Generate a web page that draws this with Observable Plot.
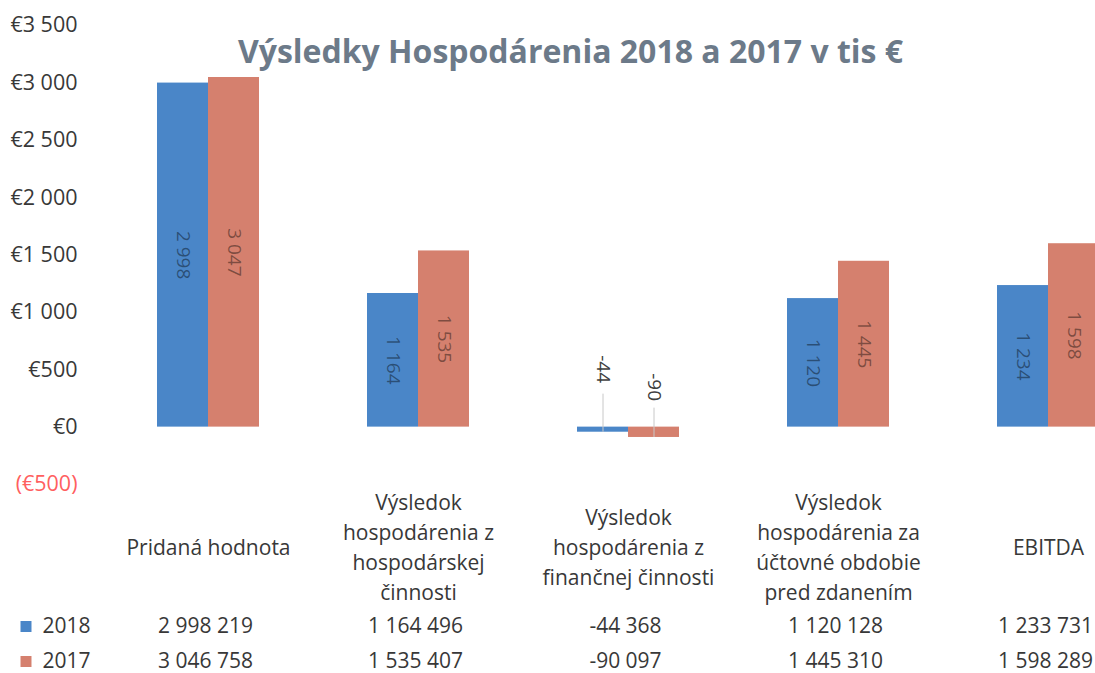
<!DOCTYPE html>
<html><head><meta charset="utf-8">
<script src="https://cdn.jsdelivr.net/npm/d3@7"></script>
<script src="https://cdn.jsdelivr.net/npm/@observablehq/plot@0.6"></script>
<style>body{margin:0;background:#fff;overflow:hidden;font-family:"Open Sans",sans-serif}</style>
</head><body><div id="chart"></div>
<script>
const categories = ["Pridaná hodnota", "VH hospodárska činnosť", "VH finančná činnosť", "VH pred zdanením", "EBITDA"];
const categoryLabels = [
  "Pridaná hodnota",
  "Výsledok\nhospodárenia z\nhospodárskej\nčinnosti",
  "Výsledok\nhospodárenia z\nfinančnej činnosti",
  "Výsledok\nhospodárenia za\núčtovné obdobie\npred zdanením",
  "EBITDA"
];
const series = ["2018", "2017"];
const seriesColors = ["#4a86c8", "#d5806e"];
const values2018 = [2998219, 1164496, -44368, 1120128, 1233731];
const values2017 = [3046758, 1535407, -90097, 1445310, 1598289];
const yTicks = [-500, 0, 500, 1000, 1500, 2000, 2500, 3000, 3500];
const title = "Výsledky Hospodárenia 2018 a 2017 v tis €";

const rows = categories.map((c, i) => ({category: c, label: categoryLabels[i], v2018: values2018[i], v2017: values2017[i]}));
const fmtSpace = v => d3.format(",")(v).replace(/,/g, "\u00a0").replace("\u2212", "-");
const k = v => v / 1000;
const fmtK = v => fmtSpace(Math.round(v / 1000));
const txt = "#383838";

const chart = Plot.plot({
  width: 1095,
  height: 673,
  marginTop: 25,
  marginBottom: 189,
  marginLeft: 103,
  marginRight: 0,
  style: {fontFamily: "Open Sans", background: "#fff"},
  x: {type: "band", domain: categories, range: [103, 1153], padding: 0, axis: null},
  y: {domain: [-500, 3500], axis: null},
  marks: [
    Plot.barY(rows, {x: "category", y: d => k(d.v2018), fill: seriesColors[0], insetLeft: 54, insetRight: 105}),
    Plot.barY(rows, {x: "category", y: d => k(d.v2017), fill: seriesColors[1], insetLeft: 105, insetRight: 54}),
    // labels inside positive bars
    Plot.text(rows.filter(d => d.v2018 > 0), {x: "category", y: d => k(d.v2018) / 2, text: d => fmtK(d.v2018), rotate: 90, dx: -25.5, fontSize: 19, fill: "#000", fillOpacity: 0.42}),
    Plot.text(rows.filter(d => d.v2017 > 0), {x: "category", y: d => k(d.v2017) / 2, text: d => fmtK(d.v2017), rotate: 90, dx: 25.5, fontSize: 19, fill: "#000", fillOpacity: 0.42}),
    // callouts for negative bars
    Plot.ruleX(rows.filter(d => d.v2018 < 0), {x: "category", y1: 0, y2: d => k(d.v2018), dx: -25.5, insetTop: -33, stroke: "#c8c8c8", strokeWidth: 1}),
    Plot.ruleX(rows.filter(d => d.v2017 < 0), {x: "category", y1: 0, y2: d => k(d.v2017), dx: 25.5, insetTop: -19, stroke: "#c8c8c8", strokeWidth: 1}),
    Plot.text(rows.filter(d => d.v2018 < 0), {x: "category", y: 0, text: d => fmtK(d.v2018), rotate: 90, dx: -25.5, dy: -58, fontSize: 19, fill: "#404040"}),
    Plot.text(rows.filter(d => d.v2017 < 0), {x: "category", y: 0, text: d => fmtK(d.v2017), rotate: 90, dx: 25.5, dy: -40, fontSize: 19, fill: "#404040"}),
    // y tick labels
    Plot.text(yTicks.filter(t => t >= 0), {y: d => d, text: d => "€" + fmtSpace(d), frameAnchor: "left", textAnchor: "end", lineAnchor: "middle", dx: -26, fontSize: 21.5, fill: txt}),
    Plot.text(yTicks.filter(t => t < 0), {y: d => d, text: d => "(€" + fmtSpace(-d) + ")", frameAnchor: "left", textAnchor: "end", lineAnchor: "middle", dx: -26, fontSize: 21.5, fill: "#ff5f5f"}),
    // title
    Plot.text([title], {text: d => d, frameAnchor: "top", lineAnchor: "middle", dy: 27, dx: -29, fontSize: 32, fontWeight: "bold", fill: "#6c7a89"}),
    // category labels
    Plot.text(rows, {x: "category", text: "label", frameAnchor: "bottom", lineAnchor: "middle", dy: 61, fontSize: 21, lineHeight: 1.414, fill: txt}),
    // data table
    Plot.text(rows, {x: "category", text: d => fmtSpace(d.v2018), frameAnchor: "bottom", lineAnchor: "middle", dy: 142, dx: -3, fontSize: 21, fill: txt}),
    Plot.text(rows, {x: "category", text: d => fmtSpace(d.v2017), frameAnchor: "bottom", lineAnchor: "middle", dy: 177, dx: -3, fontSize: 21, fill: txt}),
    // legend
    Plot.dot([series[0]], {frameAnchor: "bottom-left", dx: -77.5, dy: 142, symbol: "square", r: 6.2, fill: seriesColors[0]}),
    Plot.dot([series[1]], {frameAnchor: "bottom-left", dx: -77.5, dy: 177, symbol: "square", r: 6.2, fill: seriesColors[1]}),
    Plot.text([series[0]], {text: d => d, frameAnchor: "bottom-left", textAnchor: "start", lineAnchor: "middle", dx: -61, dy: 142, fontSize: 21, fill: txt}),
    Plot.text([series[1]], {text: d => d, frameAnchor: "bottom-left", textAnchor: "start", lineAnchor: "middle", dx: -61, dy: 177, fontSize: 21, fill: txt})
  ]
});
document.getElementById("chart").appendChild(chart);
</script>
</body></html>
